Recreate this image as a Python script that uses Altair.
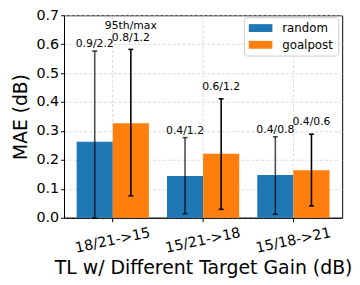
import altair as alt
import pandas as pd

groups = ["18/21->15", "15/21->18", "15/18->21"]
series = ["random", "goalpost"]
colors = ["#1f77b4", "#ff7f0e"]

mae_random = [0.263, 0.144, 0.148]
mae_goalpost = [0.327, 0.221, 0.164]
lo_random = [0.0, 0.014, 0.012]
hi_random = [0.576, 0.277, 0.280]
lo_goalpost = [0.076, 0.029, 0.041]
hi_goalpost = [0.582, 0.411, 0.289]
labels_random = ["0.9/2.2", "0.4/1.2", "0.4/0.8"]
labels_goalpost = ["0.8/1.2", "0.6/1.2", "0.4/0.6"]
header_text = "95th/max"
y_ticks = [0.0, 0.1, 0.2, 0.3, 0.4, 0.5, 0.6, 0.7]

rows = []
for i, g in enumerate(groups):
    rows.append(dict(group=g, series="random", mae=mae_random[i], lo=lo_random[i],
                     hi=hi_random[i], label=labels_random[i]))
    rows.append(dict(group=g, series="goalpost", mae=mae_goalpost[i], lo=lo_goalpost[i],
                     hi=hi_goalpost[i], label=labels_goalpost[i]))
df = pd.DataFrame(rows)
df_header = pd.DataFrame([dict(group=groups[0], series="goalpost", hi=hi_goalpost[0], label=header_text)])

FONT = "DejaVu Sans"

x_axis = alt.Axis(title="TL w/ Different Target Gain (dB)", labelAngle=-12,
                  labelAlign="center", labelBaseline="middle",
                  labelFontSize=14.5, labelPadding=19, tickSize=4,
                  bandPosition=0.5, grid=True, gridDash=[3, 2],
                  gridColor="#d0d0d0", gridWidth=0.8,
                  titleFontSize=19.2, titleFontWeight="normal",
                  titleY=57, titleBaseline="alphabetic",
                  domainColor="black", tickColor="black", labelColor="black",
                  titleColor="black")
y_axis = alt.Axis(title="MAE (dB)", values=y_ticks, labelOverlap=False,
                  format=".1f", labelFontSize=14.5, labelPadding=2, tickSize=3.5,
                  grid=True, gridDash=[3, 2], gridColor="#d0d0d0", gridWidth=0.8,
                  titleFontSize=19, titleFontWeight="normal", titleX=-44,
                  titleBaseline="middle",
                  domainColor="black", tickColor="black", labelColor="black",
                  titleColor="black")

x_enc = alt.X("group:N", sort=groups,
              scale=alt.Scale(paddingInner=0.2, paddingOuter=0.14), axis=x_axis)
xo_enc = alt.XOffset("series:N", sort=series, scale=alt.Scale(paddingInner=0, paddingOuter=0))
y_scale = alt.Scale(domain=[0, 0.7], nice=False)

bars = alt.Chart(df).mark_bar().encode(
    x=x_enc, xOffset=xo_enc,
    y=alt.Y("mae:Q", scale=y_scale, axis=y_axis),
    color=alt.Color("series:N", sort=series,
                    scale=alt.Scale(domain=series, range=colors),
                    legend=alt.Legend(title=None, orient="none", legendX=183, legendY=2,
                                      padding=5, fillColor="white", strokeColor="#cccccc",
                                      cornerRadius=3,
                                      symbolType="M-2,-0.667H2V0.667H-2Z", symbolSize=144,
                                      symbolStrokeWidth=0, symbolOffset=6, labelOffset=16,
                                      labelFontSize=12, rowPadding=5, labelColor="black")),
)

op = alt.Opacity("series:N", scale=alt.Scale(domain=series, range=[0.7, 1.0]), legend=None)

def X():
    return alt.X("group:N", sort=groups, axis=x_axis)

def XO():
    return alt.XOffset("series:N", sort=series)

def Y(field):
    return alt.Y(field, type="quantitative", scale=y_scale, axis=y_axis)

err = alt.Chart(df).mark_rule(color="black", strokeWidth=1.6).encode(
    x=X(), xOffset=XO(), y=Y("lo"), y2="hi:Q", opacity=op)
cap_hi = alt.Chart(df).mark_tick(color="black", size=5, thickness=1.6).encode(
    x=X(), xOffset=XO(), y=Y("hi"), opacity=op)
cap_lo = alt.Chart(df).mark_tick(color="black", size=5, thickness=1.6).encode(
    x=X(), xOffset=XO(), y=Y("lo"), opacity=op)

txt_random = alt.Chart(df).transform_filter(alt.datum.series == "random").mark_text(
    fontSize=11, dy=-4, baseline="alphabetic", color="black", font=FONT).encode(
    x=X(), xOffset=XO(), y=Y("hi"), text="label:N")
txt_goal = alt.Chart(df).transform_filter(alt.datum.series == "goalpost").mark_text(
    fontSize=11, dy=-9, baseline="alphabetic", color="black", font=FONT).encode(
    x=X(), xOffset=XO(), y=Y("hi"), text="label:N")
txt_head = alt.Chart(df_header).mark_text(
    fontSize=11, dy=-21, baseline="alphabetic", color="black", font=FONT).encode(
    x=X(), xOffset=XO(), y=Y("hi"), text="label:N")

chart = alt.layer(bars, err, cap_hi, cap_lo, txt_random, txt_goal, txt_head).resolve_scale(
    opacity="independent"
).properties(
    width=283, height=206,
    autosize=alt.AutoSizeParams(type="none"),
    padding={"left": 57, "top": 5, "right": 10, "bottom": 66},
).configure(font=FONT).configure_axis(labelOverlap=False).configure_view(stroke="black", strokeWidth=1)

chart.save("out.html", embed_options={"renderer": "svg", "actions": False})
